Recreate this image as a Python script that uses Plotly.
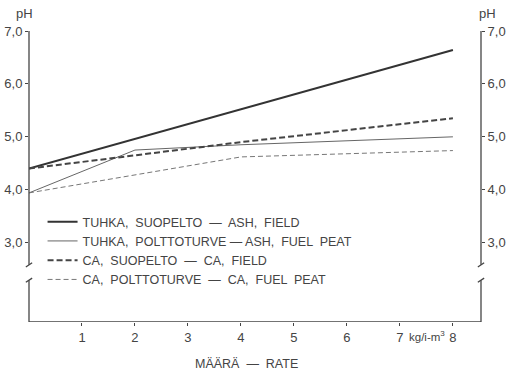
import plotly.graph_objects as go

# ---- data ----
rate_ash_field = [0, 4, 8]
ph_ash_field = [4.4, 5.52, 6.64]

rate_ash_peat = [0, 2, 4, 8]
ph_ash_peat = [3.94, 4.75, 4.85, 5.0]

rate_ca_field = [0, 4, 8]
ph_ca_field = [4.4, 4.9, 5.35]

rate_ca_peat = [0, 4, 8]
ph_ca_peat = [3.94, 4.62, 4.74]

names = [
    "TUHKA,  SUOPELTO  —  ASH,  FIELD",
    "TUHKA,  POLTTOTURVE — ASH,  FUEL  PEAT",
    "CA,  SUOPELTO  —  CA,  FIELD",
    "CA,  POLTTOTURVE  —  CA,  FUEL  PEAT",
]

x_ticks = [1, 2, 3, 4, 5, 6, 7, 8]
x_ticktext = ["1", "2", "3", "4", "5", "6", "7", "8"]
y_ticks = [3, 4, 5, 6, 7]
y_ticktext = ["3,0", "4,0", "5,0", "6,0", "7,0"]

Y_MIN, Y_MAX = 1.5, 7.0
X_MAX = 8.53
BREAK_LO, BREAK_HI = 2.29, 2.58

FONT = "Liberation Sans, Arial, sans-serif"
AX = "#444444"

fig = go.Figure()
fig.add_trace(go.Scatter(x=rate_ash_field, y=ph_ash_field, mode="lines", name=names[0],
                         line=dict(color="#333333", width=2)))
fig.add_trace(go.Scatter(x=rate_ash_peat, y=ph_ash_peat, mode="lines", name=names[1],
                         line=dict(color="#666666", width=1)))
fig.add_trace(go.Scatter(x=rate_ca_field, y=ph_ca_field, mode="lines", name=names[2],
                         line=dict(color="#444444", width=2, dash="6px,3px")))
fig.add_trace(go.Scatter(x=rate_ca_peat, y=ph_ca_peat, mode="lines", name=names[3],
                         line=dict(color="#777777", width=1, dash="5px,3px")))
# invisible trace to anchor the right axis
fig.add_trace(go.Scatter(x=[0], y=[Y_MIN], yaxis="y2", mode="markers",
                         marker=dict(opacity=0), showlegend=False, hoverinfo="skip"))

shapes = []
line_style = dict(color=AX, width=1.3)
for px in (0, 1):
    shapes.append(dict(type="line", xref="paper", yref="y", x0=px, x1=px,
                       y0=Y_MIN, y1=BREAK_LO, line=line_style))
    shapes.append(dict(type="line", xref="paper", yref="y", x0=px, x1=px,
                       y0=BREAK_HI, y1=Y_MAX, line=line_style))
    d = 0.007
    shapes.append(dict(type="line", xref="paper", yref="y", x0=px - d, x1=px + d,
                       y0=BREAK_HI - 0.04, y1=BREAK_HI + 0.04, line=line_style))
    shapes.append(dict(type="line", xref="paper", yref="y", x0=px - d, x1=px + d,
                       y0=BREAK_LO - 0.04, y1=BREAK_LO + 0.04, line=line_style))
# bottom axis line
shapes.append(dict(type="line", xref="paper", yref="y", x0=0, x1=1,
                   y0=Y_MIN, y1=Y_MIN, line=line_style))

axis_font = dict(family=FONT, size=13, color="#444444")

fig.update_layout(
    width=509, height=370,
    margin=dict(l=29, r=28, t=31, b=48, autoexpand=False),
    plot_bgcolor="white", paper_bgcolor="white",
    font=dict(family=FONT, size=12, color="#444444"),
    shapes=shapes,
    showlegend=True,
    legend=dict(x=0.03, y=0.395, xanchor="left", yanchor="top",
                bgcolor="rgba(0,0,0,0)", font=dict(family=FONT, size=12.5, color="#444444"),
                tracegroupgap=0),
    xaxis=dict(range=[0, X_MAX], showgrid=False, zeroline=False, showline=False,
               automargin=False,
               tickmode="array", tickvals=x_ticks, ticktext=x_ticktext,
               ticks="outside", ticklen=3, tickcolor=AX, tickfont=axis_font),
    yaxis=dict(range=[Y_MIN, Y_MAX], showgrid=False, zeroline=False, showline=False,
               automargin=False,
               tickmode="array", tickvals=y_ticks, ticktext=y_ticktext,
               ticks="outside", ticklen=3, tickcolor=AX, tickfont=axis_font),
    yaxis2=dict(range=[Y_MIN, Y_MAX], overlaying="y", side="right", showgrid=False,
                zeroline=False, showline=False, automargin=False,
                tickmode="array", tickvals=y_ticks, ticktext=y_ticktext,
                ticks="outside", ticklen=3, tickcolor=AX, tickfont=axis_font),
    annotations=[
        dict(text="pH", xref="paper", yref="paper", x=0, y=1, xanchor="right",
             yanchor="bottom", yshift=8, xshift=6, showarrow=False,
             font=dict(family=FONT, size=13, color="#444444")),
        dict(text="pH", xref="paper", yref="paper", x=1, y=1, xanchor="left",
             yanchor="bottom", yshift=8, xshift=-4, showarrow=False,
             font=dict(family=FONT, size=13, color="#444444")),
        dict(text="kg/i-m<sup>3</sup>", xref="x", yref="paper", x=8, y=0,
             xanchor="right", yanchor="top", xshift=-6, yshift=-5, showarrow=False,
             font=dict(family=FONT, size=11.5, color="#444444")),
        dict(text="MÄÄRÄ  —  RATE", xref="paper", yref="paper", x=0.482, y=0,
             xanchor="center", yanchor="middle", yshift=-42, showarrow=False,
             font=dict(family=FONT, size=12.5, color="#444444")),
    ],
)

fig.write_html("out.html")
